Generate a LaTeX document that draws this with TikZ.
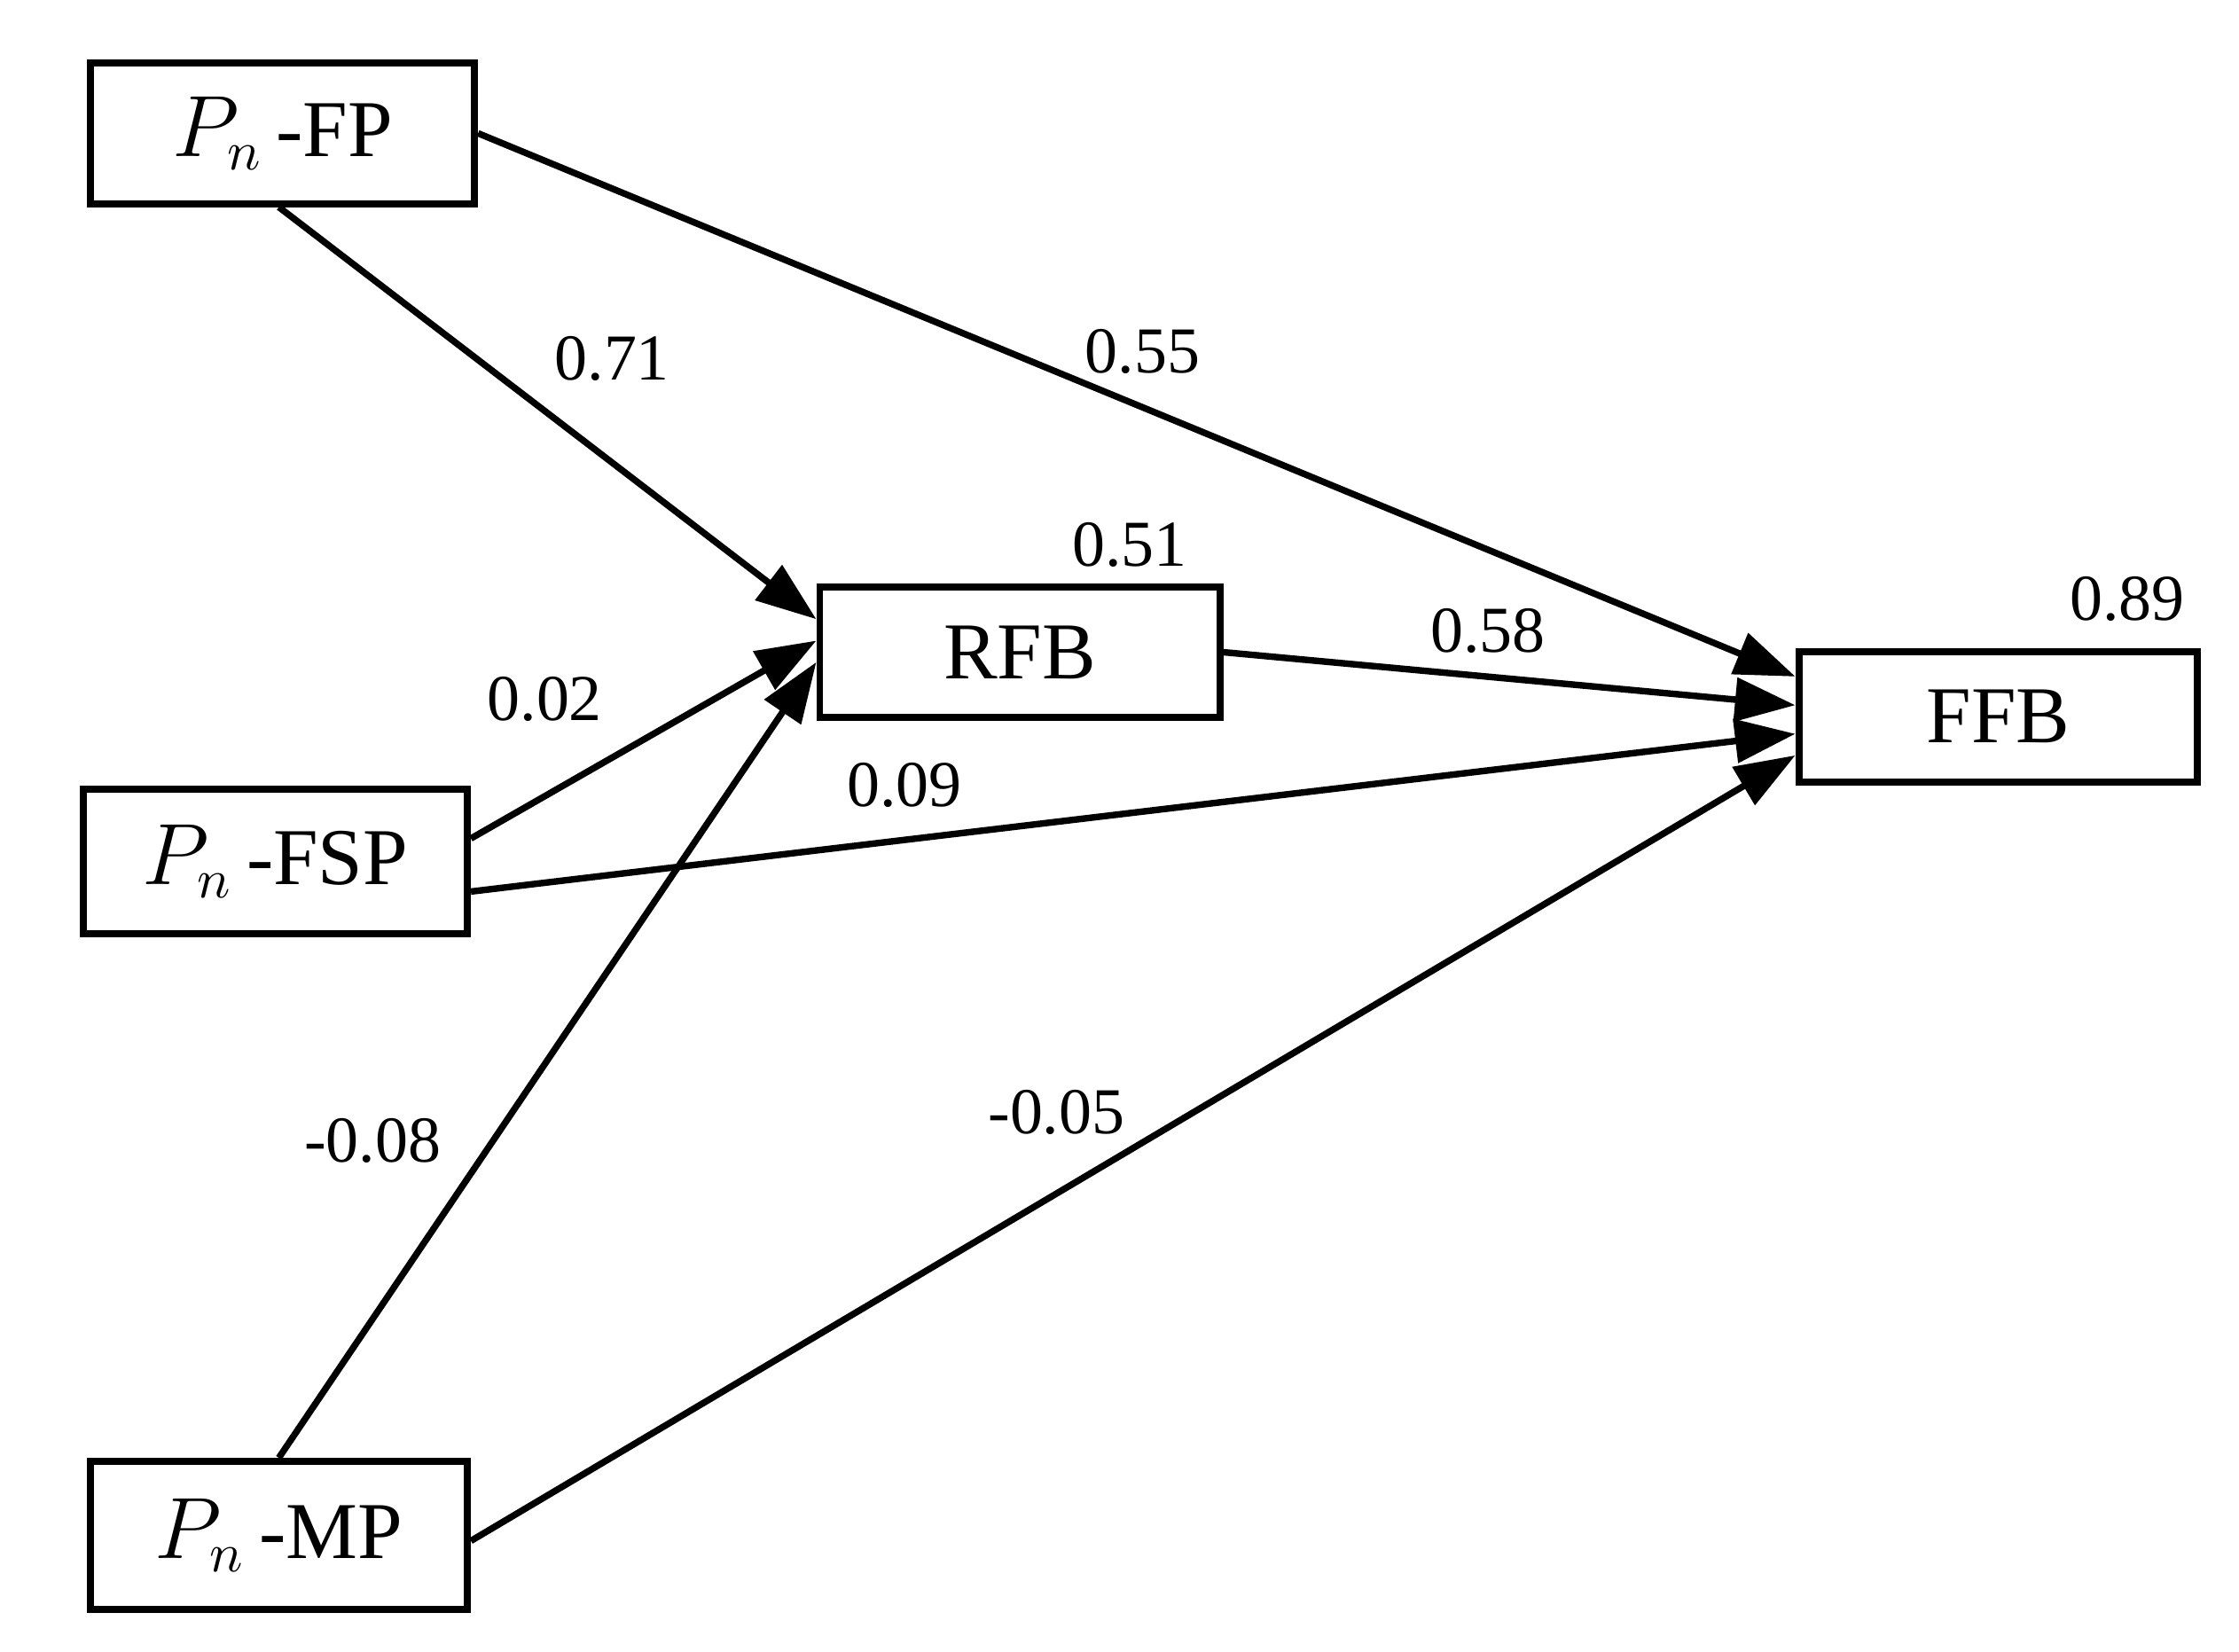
\documentclass[tikz,border=0pt]{standalone}
\usepackage{fontspec}
\setmainfont{Liberation Serif}
\usetikzlibrary{arrows.meta}
\begin{document}
\begin{tikzpicture}[x=0.01cm,y=-0.01cm,
  box/.style={draw,line width=1.4pt,inner sep=0pt,font=\fontsize{16}{18}\selectfont},
  arr/.style={line width=1.3pt,-{Triangle[length=0.42cm,width=0.3cm]}},
  lab/.style={font=\fontsize{13}{15}\selectfont}]
\useasboundingbox (0,0) rectangle (1562,1152);
\node[box,minimum width=2.68cm,minimum height=0.98cm] (fp) at (197,93) {$P_n$\,-FP};
\node[box,minimum width=2.68cm,minimum height=1.01cm] (fsp) at (192,601) {$P_n$\,-FSP};
\node[box,minimum width=2.63cm,minimum height=1.03cm] (mp) at (194.5,1071) {$P_n$\,-MP};
\node[box,minimum width=2.79cm,minimum height=0.91cm] (rfb) at (711.5,455) {RFB};
\node[box,minimum width=2.78cm,minimum height=0.91cm] (ffb) at (1394,500) {FFB};
\draw[arr] ([xshift=1.34cm]fp.south west) -- ([yshift=0.71cm]rfb.south west);
\draw[arr] (fp.east) -- ([yshift=0.76cm]ffb.south west);
\draw[arr] (rfb.east) -- ([yshift=0.56cm]ffb.south west);
\draw[arr] ([yshift=0.69cm]fsp.south east) -- ([yshift=0.56cm]rfb.south west);
\draw[arr] ([yshift=0.32cm]fsp.south east) -- ([yshift=0.36cm]ffb.south west);
\draw[arr] ([xshift=1.34cm]mp.north west) -- ([yshift=0.41cm]rfb.south west);
\draw[arr] ([yshift=0.50cm]mp.south east) -- ([yshift=0.21cm]ffb.south west);
\node[lab] (l1) at (427,250) {0.71};
\node[lab] (l2) at (797,245) {0.55};
\node[lab] (l3) at (788,380) {0.51};
\node[lab] (l4) at (1038,440) {0.58};
\node[lab] (l5) at (1484,418) {0.89};
\node[lab] (l6) at (380,488) {0.02};
\node[lab] (l7) at (631,548) {0.09};
\node[lab] (l8) at (260,796) {-0.08};
\node[lab] (l9) at (737,776) {-0.05};
\end{tikzpicture}
\end{document}
